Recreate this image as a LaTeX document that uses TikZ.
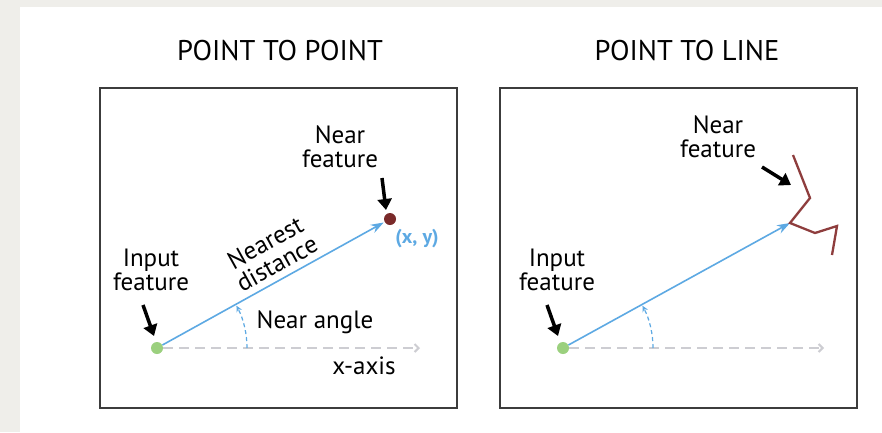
\documentclass[tikz,border=0pt]{standalone}
\usepackage{fontspec}
\setmainfont{PT Sans}
\usetikzlibrary{arrows.meta}
\definecolor{bgray}{HTML}{EFEEEA}
\definecolor{framec}{HTML}{3C3C3C}
\definecolor{lblue}{HTML}{5DA9E3}
\definecolor{dgray}{HTML}{CDCDD2}
\definecolor{pgreen}{HTML}{9BD07E}
\definecolor{pbrown}{HTML}{7A2A2A}
\definecolor{lbrown}{HTML}{8E3D3D}
\tikzset{
  panel/.style={draw=framec, line width=2pt},
  titletext/.style={font=\fontsize{28.5}{32}\selectfont, text=black, inner sep=0pt},
  lbl/.style={font=\fontsize{25}{24}\selectfont, text=black, align=center, inner sep=0pt},
  ptdot/.style={circle, minimum size=12pt, inner sep=0pt},
  distarrow/.style={draw=lblue, line width=1.6pt, -{Stealth[length=13pt,width=9pt]}},
  axisline/.style={draw=dgray, line width=2pt, dash pattern=on 10pt off 6pt, -{Straight Barb[length=4pt,width=8pt]}},
  anglearc/.style={draw=lblue, line width=1.2pt, dash pattern=on 4pt off 3pt, -{Stealth[length=6pt,width=6pt]}},
  pointer/.style={draw=black, line width=3.5pt, -{Triangle[length=11pt,width=14pt]}},
}
\begin{document}
\begin{tikzpicture}[x=1pt,y=-1pt]
\useasboundingbox (0,0) rectangle (882,432);
\fill[bgray] (0,0) rectangle (882,432);
\fill[white] (20,7) rectangle (882,432);

% panels
\draw[panel] (100,88) rectangle (457,408);
\draw[panel] (500,88) rectangle (857,408);
\node[titletext] (tL) at (280,51) {POINT TO POINT};
\node[titletext] (tR) at (687,51) {POINT TO LINE};

% ---------- left panel ----------
\node[ptdot, fill=pgreen] (inL) at (157,348) {};
\node[ptdot, fill=pbrown] (nearL) at (390,219) {};
\coordinate (xendL) at (420,348);
\draw[axisline] (inL.east) -- (xendL);
\draw[distarrow, shorten >=1pt] (inL) -- (nearL);
\draw[anglearc] (247,348) arc[start angle=0, end angle=-28, radius=90];
\node[lbl] (inLbl) at (151,270) {Input\\feature};
\node[lbl] (nfL) at (340,147) {Near\\feature};
\node[lbl, rotate=29] (ndL) at (271,253) {Nearest\\distance};
\node[lbl] (naL) at (315,322) {Near angle};
\node[lbl] (xaL) at (364,366) {x-axis};
\node[font=\fontsize{20}{22}\selectfont\bfseries, text=lblue, inner sep=0pt] (xyL) at (417,239) {(x, y)};
\coordinate (pa1) at (143,305);
\coordinate (pa2) at (154,336);
\draw[pointer] (pa1) -- (pa2);
\coordinate (pb1) at (382,178);
\coordinate (pb2) at (386,210);
\draw[pointer] (pb1) -- (pb2);

% ---------- right panel ----------
\node[ptdot, fill=pgreen] (inR) at (563,348) {};
\coordinate (hit) at (790,223);
\coordinate (xendR) at (824,348);
\draw[axisline] (inR.east) -- (xendR);
\draw[distarrow] (inR) -- (hit);
\draw[anglearc] (653,348) arc[start angle=0, end angle=-28, radius=90];
\draw[draw=lbrown, line width=2.3pt, line join=miter] (793,155) -- (810,198) -- (hit) -- (815,233) -- (837,226) -- (832,255);
\node[lbl] (inLbR) at (557,270) {Input\\feature};
\node[lbl] (nfR) at (718,137) {Near\\feature};
\coordinate (pc1) at (547,305);
\coordinate (pc2) at (558,336);
\draw[pointer] (pc1) -- (pc2);
\coordinate (pd1) at (762,167);
\coordinate (pd2) at (791,185);
\draw[pointer] (pd1) -- (pd2);
\end{tikzpicture}
\end{document}
